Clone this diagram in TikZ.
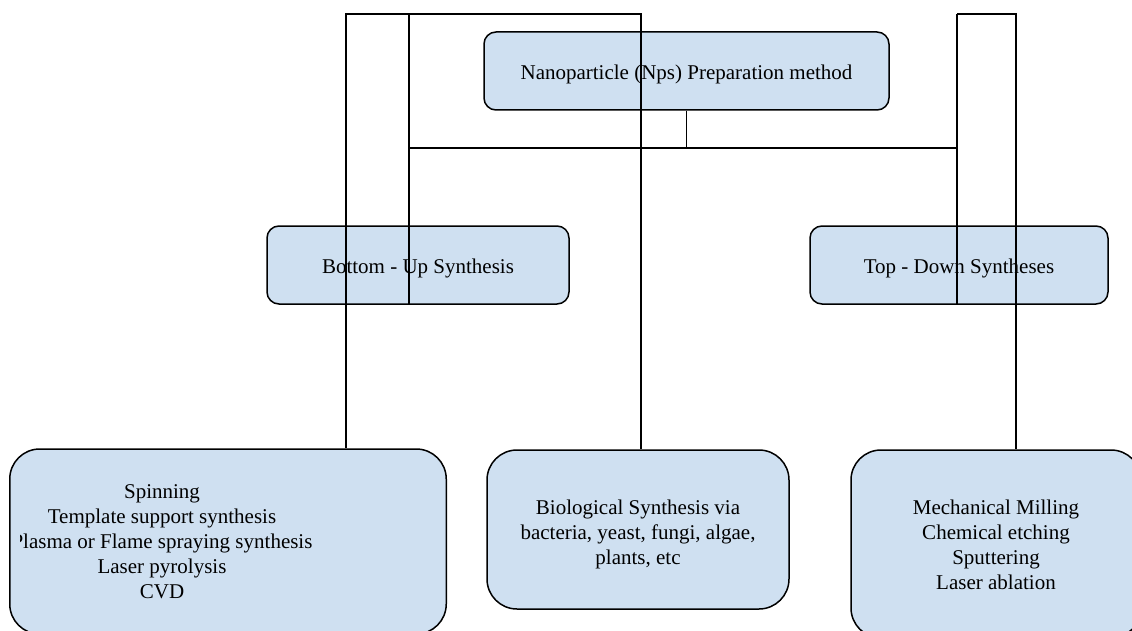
\documentclass[tikz,border=0pt]{standalone}
\usepackage{fontspec}
\setmainfont{Liberation Serif}
\definecolor{boxblue}{RGB}{207,224,241}
\begin{document}
\begin{tikzpicture}[x=1pt,y=-1pt,
  box/.style={draw=black, line width=1.5pt, fill=boxblue, rounded corners=12pt, inner sep=0pt},
  bigbox/.style={box, rounded corners=30pt},
  link/.style={draw=black, line width=1.5pt},
  txt/.style={font=\fontsize{21}{25}\selectfont, align=center, inner sep=0pt}]
\useasboundingbox (0,0) rectangle (1132,631);
\clip (0,0) rectangle (1132,631);
% boxes
\node[box, minimum width=405pt, minimum height=78pt] (root) at (686.5,71) {};
\node[txt] (roottext) at (686.5,74) {Nanoparticle (Nps) Preparation method};
\node[box, minimum width=302pt, minimum height=78pt] (bu) at (418,265) {};
\node[txt] (butext) at (418,268) {Bottom - Up Synthesis};
\node[box, minimum width=298pt, minimum height=78pt] (td) at (959,265) {};
\node[txt] (tdtext) at (959,268) {Top - Down Syntheses};
\node[bigbox, minimum width=436.5pt, minimum height=185pt] (bl) at (228,541.5) {};
\begin{scope}
  \clip (20,449) rectangle (446,631);
  \node[txt] (bltext) at (162,542) {Spinning\\Template support synthesis\\Plasma or Flame spraying synthesis\\Laser pyrolysis\\CVD};
\end{scope}
\node[bigbox, minimum width=302pt, minimum height=159pt] (bm) at (638,529.5) {};
\node[txt] (bmtext) at (638,534.5) {Biological Synthesis via\\bacteria, yeast, fungi, algae,\\plants, etc};
\node[bigbox, minimum width=290pt, minimum height=188pt] (br) at (996,544) {};
\node[txt] (brtext) at (996,545) {Mechanical Milling\\Chemical etching\\Sputtering\\Laser ablation};
% connector points
\coordinate (t1) at (346,14);
\coordinate (t2) at (409,14);
\coordinate (t3) at (641,14);
\coordinate (t4) at (957,14);
\coordinate (t5) at (1016,14);
\coordinate (hL) at (409,148);
\coordinate (hR) at (957,148);
\coordinate (hA) at (585,148);
\coordinate (hB) at (744,148);
% connectors
\draw[link] (t1 |- bl.north) -- (t1) -- (t3) -- (t3 |- bm.north);
\draw[link] (t2) -- (t2 |- bu.south);
\draw[link] (t4) -- (t4 |- td.south);
\draw[link] (t4) -- (t5) -- (t5 |- br.north);
\draw[link] (root.south) -- (root.south |- hL);
\draw[link] (hL) -- (hR);
\draw[link, line width=2pt] (hA) -- (hB);
\end{tikzpicture}
\end{document}
